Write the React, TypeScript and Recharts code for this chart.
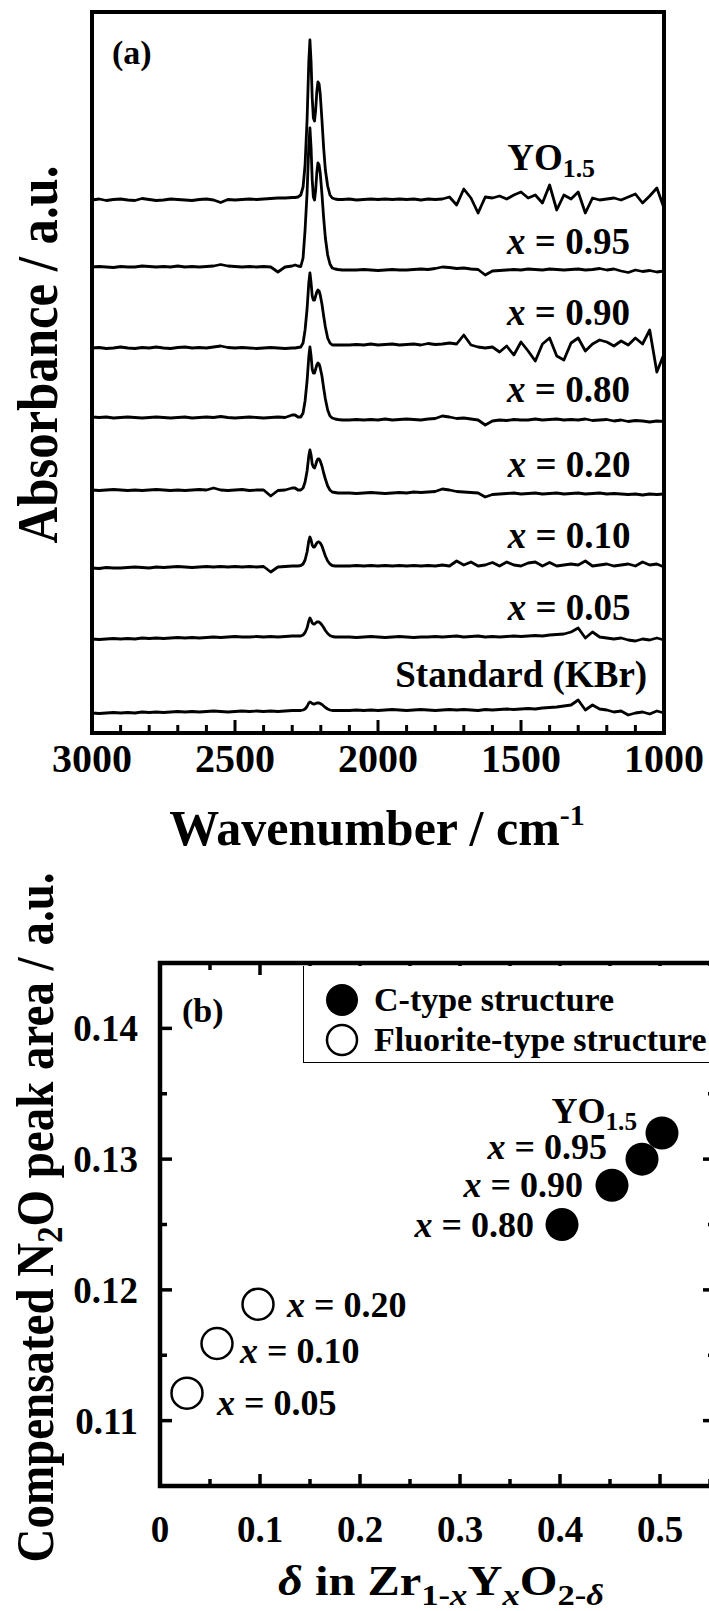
import React from "react";
import {
  Legend,
  Line,
  LineChart,
  ReferenceArea,
  ReferenceDot,
  Scatter,
  ScatterChart,
  XAxis,
  YAxis,
} from "recharts";

const FONT = '"Liberation Serif", "Times New Roman", Times, serif';

// ---------- panel (a): FT-IR spectra ----------
// wavenumber grid (cm-1), denser around the N2O doublet
const wavenumbers = [
  3000, 2975, 2950, 2925, 2900, 2875, 2850, 2825, 2800, 2775, 2750, 2725, 2700, 2675, 2650,
  2625, 2600, 2575, 2550, 2525, 2500, 2475, 2450, 2425, 2400, 2375, 2350, 2325, 2300,
  2290, 2280, 2270, 2262, 2255, 2248, 2242, 2238, 2234, 2230, 2226, 2222, 2218, 2214, 2210,
  2206, 2202, 2196, 2190, 2184, 2176, 2168, 2160, 2150, 2140, 2125,
  2100, 2075, 2050, 2025, 2000, 1975, 1950, 1925, 1900, 1875, 1850, 1825, 1800, 1775, 1750,
  1725, 1700, 1675, 1650, 1625, 1600, 1575, 1550, 1525, 1500, 1475, 1450, 1425, 1400, 1375,
  1350, 1325, 1300, 1275, 1250, 1225, 1200, 1175, 1150, 1125, 1100, 1075, 1050, 1025, 1000,
];

// absorbance (a.u.) of each sample, relative to its own baseline
const specYO15 = [
  0, 0.1, -0.05, 0.05, 0.1, 0, -0.05, 0.15, 0.05, -0.05, 0, 0.1, 0.05, 0, -0.05, 0.05, 0.1, 0, -0.25, 0.05, 0, 0.05, 0.1, 0.05, 0.1, 0.15, 0.2, 0.2, 0.25,
  0.25, 0.3, 0.5, 1.3, 3.5, 8.0, 13.8, 16.0, 13.8, 10.2, 8.2, 7.9, 9.0, 10.8, 11.8, 11.6, 10.6, 8.0, 5.2, 3.0, 1.4, 0.5, 0.2, 0.1, 0.05, 0.05,
  0.1, 0, 0.05, 0.1, 0.05, 0.1, 0.05, 0.1, 0.05, 0.1, 0, 0.1, 0.05, 0.1, 0.3, -0.5, 1.1, 0.2, -1.3, 0.3, 0.2, 0.4, 0.1, 0.5, 0.8, 0.2, 0.5, -0.3, 1.5, -1.0, 0.5, 0.1, 0.8, -1.3, 0.2, 0, 0.1, 0.2, 0, 0.3, 0.6, -0.3, 0.4, 1.2, -0.8,
];
const specX95 = [
  0.1, 0.15, 0.1, 0.05, 0.15, 0.1, 0.1, 0.2, 0.15, 0.1, 0.15, 0.1, 0.2, 0.1, 0.15, 0.1, 0.15, 0.2, 0.35, 0.2, 0.15, 0.1, 0.15, 0.1, 0.15, 0.1, -0.4, 0.1, 0.2,
  0.3, 0.2, 0.15, 1.0, 3.8, 7.5, 12.2, 14.0, 12.0, 8.8, 7.1, 6.8, 7.8, 9.5, 10.5, 10.3, 9.5, 7.4, 5.0, 3.0, 1.3, 0.4, 0, -0.1, -0.15, -0.2,
  -0.2, -0.2, -0.15, -0.2, -0.25, -0.2, -0.15, -0.2, -0.2, -0.15, -0.1, -0.15, -0.05, 0.1, 0.05, -0.05, 0, -0.1, -0.15, -0.7, -0.3, -0.25, -0.2, -0.15, -0.2, -0.1, -0.15, -0.2, -0.1, -0.15, -0.2, -0.15, -0.1, -0.2, -0.15, -0.05, -0.2, -0.1, -0.3, -0.45, -0.2, -0.35, -0.25, -0.4, -0.3,
];
const specX90 = [
  0, 0.05, -0.05, 0, 0.1, 0, -0.05, 0.05, 0, 0.1, 0, -0.05, 0.05, 0.1, 0, 0.05, 0, 0.1, 0.2, 0.05, 0, 0.05, 0, -0.05, 0, 0.05, 0, -0.05, 0,
  0, 0.05, 0.1, 0.5, 1.8, 3.9, 6.5, 7.5, 6.5, 5.2, 4.8, 4.8, 5.2, 5.6, 5.8, 5.7, 5.3, 4.4, 3.2, 2.1, 1.0, 0.5, 0.3, 0.3, 0.3, 0.3,
  0.3, 0.35, 0.3, 0.4, 0.3, 0.35, 0.4, 0.3, 0.35, 0.4, 0.3, 0.45, 0.35, 0.4, 0.5, 0.4, 1.3, 0.3, 0.1, 0, 0.1, -0.4, 0.2, -0.7, 0.6, -0.3, -1.3, 0.4, 1.0, -0.8, -1.2, 0.5, 1.0, -0.3, 0.4, 0.8, 0.6, 0.2, 0.7, 0.3, 1.0, 0.4, 1.8, -2.4, -0.6,
];
const specX80 = [
  0.1, 0.05, 0.1, 0, 0.05, 0.1, 0.05, 0, 0.05, 0.1, 0.05, 0, 0.05, 0.1, 0, 0.05, 0.1, 0.05, 0.15, 0.05, 0, 0.05, 0.1, 0.05, 0, 0.05, 0.1, 0.05, 0.3,
  0.3, 0.1, 0.1, 0.5, 1.7, 3.7, 6.1, 7.1, 6.2, 4.9, 4.5, 4.5, 4.9, 5.3, 5.5, 5.4, 5.0, 4.2, 3.0, 1.9, 0.8, 0.2, 0, -0.1, -0.15, -0.2,
  -0.2, -0.15, -0.2, -0.15, -0.2, -0.1, -0.2, -0.15, -0.1, -0.15, -0.2, -0.1, -0.05, 0.2, 0.1, -0.05, 0, -0.1, -0.2, -0.7, -0.3, -0.2, -0.25, -0.15, -0.2, -0.2, -0.1, -0.2, -0.15, -0.1, -0.2, -0.15, -0.2, -0.1, -0.25, -0.2, -0.15, -0.3, -0.2, -0.35, -0.25, -0.3, -0.4, -0.3, -0.35,
];
const specX20 = [
  0.1, 0.05, 0.1, 0.15, 0.1, 0.05, 0.1, 0.05, 0.1, 0.15, 0.1, 0.05, 0.1, 0.05, 0.1, 0.15, 0.1, 0.3, 0.1, 0.05, 0.1, 0.15, 0.05, 0.1, 0.1, -0.5, 0.05, 0.1, 0.3,
  0.3, 0.1, 0.1, 0.3, 0.9, 2.0, 3.5, 4.1, 3.6, 2.7, 2.4, 2.3, 2.6, 3.0, 3.2, 3.2, 3.0, 2.5, 1.8, 1.2, 0.5, 0.1, -0.1, -0.15, -0.2, -0.2,
  -0.2, -0.25, -0.2, -0.15, -0.2, -0.25, -0.2, -0.15, -0.2, -0.1, -0.15, -0.1, -0.05, 0.2, 0.1, -0.05, -0.1, -0.15, -0.2, -0.6, -0.35, -0.3, -0.25, -0.2, -0.3, -0.25, -0.2, -0.3, -0.25, -0.2, -0.3, -0.25, -0.2, -0.3, -0.25, -0.2, -0.3, -0.25, -0.3, -0.35, -0.3, -0.4, -0.3, -0.35, -0.3,
];
const specX10 = [
  -0.2, -0.25, -0.15, -0.2, -0.2, -0.15, -0.1, -0.15, -0.2, -0.1, -0.15, -0.1, -0.05, -0.1, -0.15, -0.1, -0.05, -0.1, -0.05, -0.1, -0.05, -0.1, -0.05, -0.1, -0.05, -0.6, -0.1, -0.05, 0,
  0, 0, 0.05, 0.2, 0.6, 1.4, 2.5, 2.9, 2.6, 2.1, 1.9, 1.9, 2.1, 2.3, 2.4, 2.4, 2.3, 2.0, 1.5, 1.0, 0.5, 0.2, 0.05, 0, 0, 0,
  0, 0.05, 0, 0.05, 0, 0.05, 0, 0.05, 0, 0.05, 0, 0.05, 0, 0.1, 0, 0.5, 0.1, 0.4, 0, 0.1, 0.35, 0, 0.4, 0.1, 0, 0.3, 0.4, 0, 0.35, 0, 0.1, 0.2, 0.1, 0.5, 0, 0.1, 0.2, 0, 0.1, 0.2, 0, 0.4, 0.1, 0.2, -0.1,
];
const specX05 = [
  -0.2, -0.25, -0.2, -0.15, -0.2, -0.15, -0.2, -0.1, -0.15, -0.1, -0.15, -0.1, -0.05, -0.1, -0.05, -0.1, -0.05, 0, -0.05, 0, 0.05, 0, 0, 0.05, 0, 0.05, 0, 0.05, 0.1,
  0.1, 0.1, 0.1, 0.2, 0.45, 0.9, 1.6, 1.9, 1.7, 1.4, 1.3, 1.3, 1.4, 1.5, 1.5, 1.5, 1.4, 1.2, 0.95, 0.65, 0.35, 0.15, 0.05, 0, 0, 0,
  0, -0.05, 0, 0.05, 0, -0.05, 0, 0.05, 0, -0.05, 0, 0, 0.05, 0, 0.05, 0.1, 0, 0.05, 0.1, 0, 0.05, 0, 0.05, 0.1, 0.05, 0.1, 0.15, 0.1, 0.2, 0.25, 0.3, 0.5, 0.9, -0.1, 0.5, 0, -0.1, -0.2, -0.1, -0.3, -0.4, -0.2, -0.3, -0.1, -0.3,
];
const specKBr = [
  -0.1, -0.15, -0.1, -0.05, -0.1, -0.05, -0.1, 0, -0.05, 0, -0.05, 0, 0.05, 0, 0.05, 0, 0.05, 0.1, 0.05, 0, 0.05, 0.1, 0.05, 0.1, 0.05, 0.1, 0.05, 0.1, 0.15,
  0.15, 0.15, 0.15, 0.2, 0.3, 0.55, 0.9, 1.0, 0.95, 0.85, 0.8, 0.8, 0.85, 0.9, 0.9, 0.9, 0.85, 0.75, 0.6, 0.45, 0.3, 0.2, 0.15, 0.15, 0.15, 0.15,
  0.15, 0.2, 0.15, 0.2, 0.15, 0.2, 0.25, 0.2, 0.15, 0.2, 0.25, 0.2, 0.15, 0.2, 0.25, 0.2, 0.25, 0.2, 0.15, 0.25, 0.2, 0.25, 0.3, 0.25, 0.3, 0.35, 0.3, 0.4, 0.45, 0.5, 0.6, 0.7, 1.2, 0.2, 0.7, 0.3, 0.2, 0, 0.1, -0.3, -0.1, 0, -0.2, 0.1, -0.1,
];

const traceKeys = ["yo15", "x95", "x90", "x80", "x20", "x10", "x05", "kbr"];
const traceSpectra = [specYO15, specX95, specX90, specX80, specX20, specX10, specX05, specKBr];
// vertical stacking offset of each spectrum (a.u.)
const traceOffsets = [53.3, 46.5, 38.5, 31.5, 24.2, 16.7, 9.6, 2.1];

const traceLabels = ["YO1.5", "x = 0.95", "x = 0.90", "x = 0.80", "x = 0.20", "x = 0.10", "x = 0.05", "Standard (KBr)"];
const traceLabelWn = [1241, 1119, 1119, 1119, 1117, 1117, 1117, 1059];
const traceLabelLevel = [56.3, 47.9, 40.8, 33.1, 25.6, 18.5, 11.3, 4.6];

const waveTicks = [3000, 2900, 2800, 2700, 2600, 2500, 2400, 2300, 2200, 2100, 2000, 1900, 1800, 1700, 1600, 1500, 1400, 1300, 1200, 1100, 1000];
const absTop = 72.1;

const spectraRows = wavenumbers.map((wn, i) => {
  const row: Record<string, number> = { wn };
  traceKeys.forEach((k, j) => {
    row[k] = traceSpectra[j][i] + traceOffsets[j];
  });
  return row;
});

// ---------- panel (b): peak area vs oxygen vacancy ----------
const cTypeDelta = [0.402, 0.452, 0.482, 0.502];
const cTypeArea = [0.125, 0.128, 0.13, 0.132];
const cTypeLabels = ["x = 0.80", "x = 0.90", "x = 0.95", "YO1.5"];
const fluoriteDelta = [0.027, 0.057, 0.098];
const fluoriteArea = [0.1121, 0.1159, 0.1189];
const fluoriteLabels = ["x = 0.05", "x = 0.10", "x = 0.20"];

const cTypeLabelDx = [-28, -29, -35, -25];
const cTypeLabelDy = [12, 12, 0, -10];
const fluoriteLabelDx = [30, 23, 29];
const fluoriteLabelDy = [22, 20, 13];

const deltaMax = 0.555;
const deltaTicks = [0, 0.05, 0.1, 0.15, 0.2, 0.25, 0.3, 0.35, 0.4, 0.45, 0.5, 0.55];
const areaTicks = [0.11, 0.115, 0.12, 0.125, 0.13, 0.135, 0.14];

const cTypeRows = cTypeDelta.map((d, i) => ({ delta: d, area: cTypeArea[i], label: cTypeLabels[i], i }));
const fluoriteRows = fluoriteDelta.map((d, i) => ({ delta: d, area: fluoriteArea[i], label: fluoriteLabels[i], i }));

const legendItems = [
  { name: "C-type structure", filled: true },
  { name: "Fluorite-type structure", filled: false },
];

const PLOT_B_W = 555;
const PLOT_B_H = 523;

// ---------- text helpers ----------
const SampleText = ({ text, x, y, anchor, size }: any) => {
  if (text.startsWith("x = ")) {
    return (
      <text x={x} y={y} textAnchor={anchor} fontFamily={FONT} fontWeight={700} fontSize={size} fill="#000">
        <tspan fontStyle="italic">x</tspan> = {text.slice(4)}
      </text>
    );
  }
  if (text === "YO1.5") {
    return (
      <text x={x} y={y} textAnchor={anchor} fontFamily={FONT} fontWeight={700} fontSize={size} fill="#000">
        YO<tspan fontSize={size * 0.7} dy={7}>1.5</tspan>
      </text>
    );
  }
  return (
    <text x={x} y={y} textAnchor={anchor} fontFamily={FONT} fontWeight={700} fontSize={size} fill="#000">
      {text}
    </text>
  );
};

const WaveTick = (props: any) => {
  const { x, y, payload } = props;
  const v = Number(payload.value);
  const major = v % 500 === 0;
  const edge = v === 3000 || v === 1000;
  return (
    <g>
      {!edge && <line x1={x} x2={x} y1={y} y2={y - (major ? 13 : 8)} stroke="#000" strokeWidth={3} />}
      {major && (
        <text x={x} y={y + 39} textAnchor="middle" fontFamily={FONT} fontWeight={700} fontSize={40} fill="#000">
          {v}
        </text>
      )}
    </g>
  );
};

const WaveTitle = (props: any) => {
  const vb = props.viewBox;
  return (
    <text x={vb.x + vb.width / 2 - 1} y={vb.y + 112} textAnchor="middle" fontFamily={FONT} fontWeight={700} fontSize={50} fill="#000">
      Wavenumber / cm<tspan fontSize={30} dy={-20}>-1</tspan>
    </text>
  );
};

const AbsTitle = (props: any) => {
  const vb = props.viewBox;
  const cx = vb.x + vb.width - 35;
  const cy = vb.y + vb.height / 2 - 18;
  return (
    <text
      transform={`translate(${cx},${cy}) rotate(-90)`}
      textAnchor="middle"
      fontFamily={FONT}
      fontWeight={700}
      fontSize={56}
      textLength={378}
      lengthAdjust="spacingAndGlyphs"
      fill="#000"
    >
      Absorbance / a.u.
    </text>
  );
};

const DeltaTick = (props: any) => {
  const { x, y, payload } = props;
  const v = Number(payload.value);
  const major = Math.abs(v * 10 - Math.round(v * 10)) < 1e-6;
  const edge = v === 0;
  const len = major ? 12 : 7;
  return (
    <g>
      {!edge && <line x1={x} x2={x} y1={y} y2={y - len} stroke="#000" strokeWidth={3.5} />}
      {!edge && <line x1={x} x2={x} y1={y - PLOT_B_H} y2={y - PLOT_B_H + len} stroke="#000" strokeWidth={3.5} />}
      {major && v <= 0.5 && (
        <text x={x} y={y + 56} textAnchor="middle" fontFamily={FONT} fontWeight={700} fontSize={37} fill="#000">
          {v === 0 ? "0" : v.toFixed(1)}
        </text>
      )}
    </g>
  );
};

const AreaTick = (props: any) => {
  const { x, y, payload } = props;
  const v = Number(payload.value);
  const major = Math.abs(v * 100 - Math.round(v * 100)) < 1e-6;
  const len = major ? 12 : 7;
  return (
    <g>
      <line x1={x} x2={x + len} y1={y} y2={y} stroke="#000" strokeWidth={3.5} />
      <line x1={x + PLOT_B_W} x2={x + PLOT_B_W - len} y1={y} y2={y} stroke="#000" strokeWidth={3.5} />
      {major && (
        <text x={x - 22} y={y + 13} textAnchor="end" fontFamily={FONT} fontWeight={700} fontSize={37} fill="#000">
          {v.toFixed(2)}
        </text>
      )}
    </g>
  );
};

const DeltaTitle = (props: any) => {
  const vb = props.viewBox;
  const sub = 30;
  return (
    <text
      x={160 + 281}
      y={vb.y + 109}
      textAnchor="middle"
      fontFamily={FONT}
      fontWeight={700}
      fontSize={42}
      textLength={326}
      lengthAdjust="spacingAndGlyphs"
      fill="#000"
    >
      <tspan fontStyle="italic">δ</tspan>
      <tspan> in Zr</tspan>
      <tspan fontSize={sub} dy={10}>1-</tspan>
      <tspan fontSize={sub} fontStyle="italic">x</tspan>
      <tspan dy={-10}>Y</tspan>
      <tspan fontSize={sub} dy={10} fontStyle="italic">x</tspan>
      <tspan dy={-10}>O</tspan>
      <tspan fontSize={sub} dy={10}>2-</tspan>
      <tspan fontSize={sub} fontStyle="italic">δ</tspan>
    </text>
  );
};

const AreaTitle = (props: any) => {
  const vb = props.viewBox;
  const cx = vb.x + vb.width - 107;
  const cy = vb.y + vb.height / 2 - 7;
  return (
    <text
      transform={`translate(${cx},${cy}) rotate(-90)`}
      textAnchor="middle"
      fontFamily={FONT}
      fontWeight={700}
      fontSize={52}
      textLength={690}
      lengthAdjust="spacingAndGlyphs"
      fill="#000"
    >
      Compensated N<tspan fontSize={36} dy={9}>2</tspan>
      <tspan dy={-9}>O peak area / a.u.</tspan>
    </text>
  );
};

const FilledMark = (props: any) => {
  const { cx, cy, payload } = props;
  const i = payload.i;
  return (
    <g>
      <circle cx={cx} cy={cy} r={16.5} fill="#000" />
      <SampleText text={payload.label} x={cx + cTypeLabelDx[i]} y={cy + cTypeLabelDy[i]} anchor="end" size={36} />
    </g>
  );
};

const OpenMark = (props: any) => {
  const { cx, cy, payload } = props;
  const i = payload.i;
  return (
    <g>
      <circle cx={cx} cy={cy} r={15.5} fill="#fff" stroke="#000" strokeWidth={2.5} />
      <SampleText text={payload.label} x={cx + fluoriteLabelDx[i]} y={cy + fluoriteLabelDy[i]} anchor="start" size={36} />
    </g>
  );
};

const LegendBox = () => (
  <div
    style={{
      position: "relative",
      width: "100%",
      height: "100%",
      background: "#fff",
      borderLeft: "1.5px solid #000",
      borderBottom: "1.5px solid #000",
      boxSizing: "border-box",
      fontFamily: FONT,
      fontWeight: 700,
      fontSize: 34,
      color: "#000",
    }}
  >
    {legendItems.map((it, k) => (
      <div key={it.name} style={{ position: "absolute", left: 0, top: 14 + k * 40, height: 40, display: "flex", alignItems: "center", whiteSpace: "nowrap" }}>
        <svg width={70} height={40} style={{ display: "block" }}>
          <circle cx={38} cy={20} r={it.filled ? 16 : 15} fill={it.filled ? "#000" : "#fff"} stroke="#000" strokeWidth={it.filled ? 0 : 2.5} />
        </svg>
        <span style={{ lineHeight: "40px" }}>{it.name}</span>
      </div>
    ))}
  </div>
);

const SpectraPanel = () => (
  <LineChart width={709} height={870} data={spectraRows} margin={{ top: 12, right: 45, bottom: 97, left: 32 }}>
    <XAxis
      dataKey="wn"
      type="number"
      domain={[1000, 3000]}
      reversed
      ticks={waveTicks}
      interval={0}
      tick={WaveTick}
      tickLine={false}
      axisLine={false}
      tickSize={0}
      tickMargin={0}
      height={40}
      label={WaveTitle}
    />
    <YAxis type="number" domain={[0, absTop]} width={60} tick={false} tickLine={false} axisLine={false} label={AbsTitle} />
    <ReferenceArea x1={3000} x2={1000} y1={0} y2={absTop} fill="none" stroke="#000" strokeWidth={4} />
    {traceKeys.map((k) => (
      <Line key={k} dataKey={k} type="linear" stroke="#000" strokeWidth={2.8} strokeLinejoin="round" dot={false} activeDot={false} isAnimationActive={false} />
    ))}
    {traceLabels.map((t, i) => (
      <ReferenceDot
        key={t}
        x={traceLabelWn[i]}
        y={traceLabelLevel[i]}
        r={0}
        shape={(p: any) => <SampleText text={t} x={p.cx} y={p.cy} anchor="end" size={37} />}
      />
    ))}
    <ReferenceDot
      x={2930}
      y={66.9}
      r={0}
      shape={(p: any) => (
        <text x={p.cx} y={p.cy} fontFamily={FONT} fontWeight={700} fontSize={34} fill="#000">
          (a)
        </text>
      )}
    />
  </LineChart>
);

// chart (b) is placed at page y = 820; its plot spans page y 963..1486
const AreaPanel = () => (
  <ScatterChart width={770} height={791} margin={{ top: 143, right: 55, bottom: 85, left: 60 }}>
    <XAxis
      dataKey="delta"
      type="number"
      domain={[0, deltaMax]}
      ticks={deltaTicks}
      interval={0}
      tick={DeltaTick}
      tickLine={false}
      axisLine={false}
      tickSize={0}
      tickMargin={0}
      height={40}
      label={DeltaTitle}
    />
    <YAxis
      dataKey="area"
      type="number"
      domain={[0.105, 0.145]}
      ticks={areaTicks}
      interval={0}
      tick={AreaTick}
      tickLine={false}
      axisLine={false}
      tickSize={0}
      tickMargin={0}
      width={100}
      label={AreaTitle}
    />
    <ReferenceArea x1={0} x2={deltaMax} y1={0.105} y2={0.145} fill="none" stroke="#000" strokeWidth={4.5} />
    <Scatter name="C-type structure" data={cTypeRows} shape={FilledMark} isAnimationActive={false} />
    <Scatter name="Fluorite-type structure" data={fluoriteRows} shape={OpenMark} isAnimationActive={false} />
    <ReferenceDot
      x={0.022}
      y={0.1405}
      r={0}
      shape={(p: any) => (
        <text x={p.cx} y={p.cy} fontFamily={FONT} fontWeight={700} fontSize={34} fill="#000">
          (b)
        </text>
      )}
    />
    <Legend
      layout="vertical"
      align="center"
      verticalAlign="middle"
      content={LegendBox}
      wrapperStyle={{ position: "absolute", left: 303, top: 146, width: 440, height: 97, margin: 0, padding: 0 }}
    />
  </ScatterChart>
);

export default function App() {
  return (
    <div style={{ position: "absolute", left: 0, top: 0, width: 709, height: 1611, overflow: "hidden", background: "#fff" }}>
      <div style={{ position: "absolute", left: 0, top: 0 }}>
        <SpectraPanel />
      </div>
      <div style={{ position: "absolute", left: 0, top: 820 }}>
        <AreaPanel />
      </div>
    </div>
  );
}
